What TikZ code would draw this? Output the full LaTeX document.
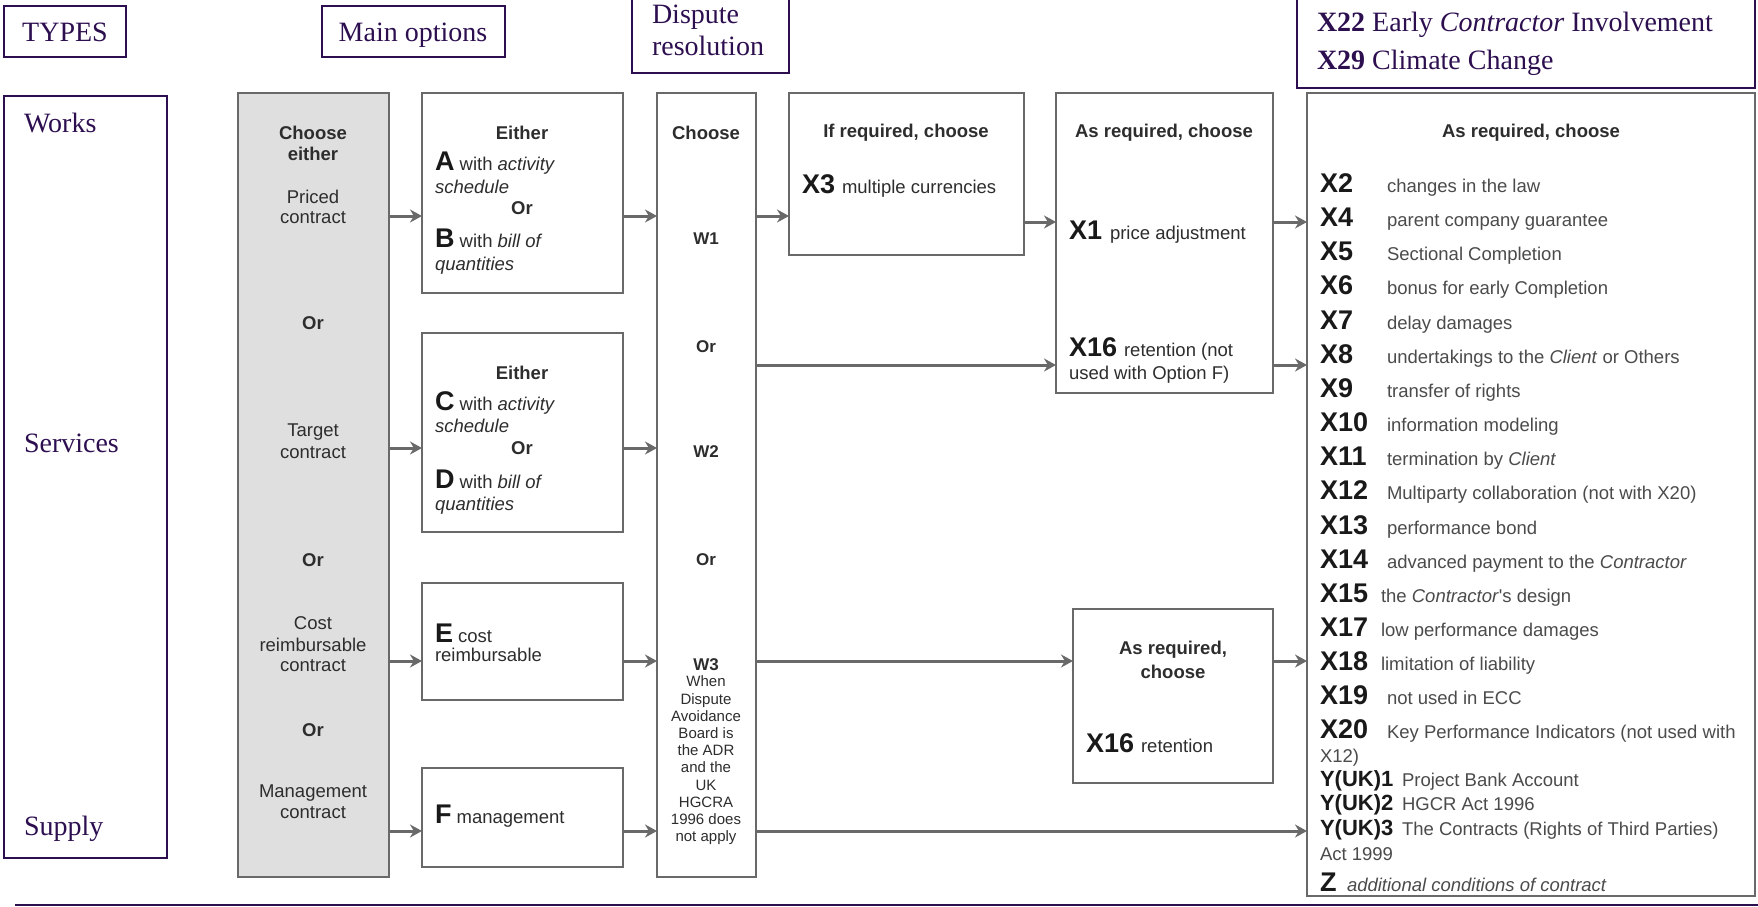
\documentclass[tikz,border=0pt]{standalone}
\usepackage{fontspec}
\setmainfont{Liberation Serif}
\newfontfamily\arialf{Liberation Sans}
\usetikzlibrary{arrows.meta}
\definecolor{pur}{RGB}{45,15,80}
\definecolor{gline}{RGB}{105,105,105}
\definecolor{gfill}{RGB}{223,223,223}
\definecolor{gtext}{RGB}{45,45,45}
\definecolor{dtext}{RGB}{75,75,75}
\newcommand\fsz[2]{\fontsize{#1}{#2}\selectfont}
\newcommand\BL[1]{{\fsz{27}{30}\bfseries\color{black!90}#1}}
\newcommand\xrow[5]{%
  \node[lbl,anchor=base west] (#1) at (1320,#2) {#3};
  \node[desc,anchor=base west] (#1d) at (#4,#2) {#5};}
\begin{document}
\begin{tikzpicture}[x=1pt,y=-1pt,
  every node/.style={inner sep=0pt,outer sep=0pt},
  pbox/.style={draw=pur,line width=1.8pt,anchor=north west},
  ptxt/.style={text=pur,font=\fsz{28}{32}},
  gbox/.style={draw=gline,line width=2.6pt,fill=white,anchor=north west},
  graybox/.style={gbox,fill=gfill},
  dt/.style={font=\arialf\fsz{18.5}{21},text=gtext},
  dtb/.style={font=\arialf\bfseries\fsz{18.5}{21},text=gtext},
  wt/.style={font=\arialf\bfseries\fsz{17}{20},text=gtext},
  desc/.style={font=\arialf\fsz{18.5}{21},text=dtext},
  lbl/.style={font=\arialf\bfseries\fsz{27}{30},text=black!90},
  ylbl/.style={font=\arialf\bfseries\fsz{22}{24},text=black!90},
  arr/.style={draw=gline,line width=3pt,-{Stealth[length=12pt,width=13pt]}},
]
\useasboundingbox (0,0) rectangle (1758,907);

% ---------- purple header boxes ----------
\node[pbox,minimum width=122pt,minimum height=51pt] (types) at (4,6) {};
\node[ptxt,anchor=base] (typest) at (65,42) {TYPES};
\node[pbox,minimum width=183pt,minimum height=51pt] (mainopt) at (322,6) {};
\node[ptxt,anchor=base] (mainoptt) at (413,42) {Main options};
\node[pbox,minimum width=157pt,minimum height=76pt] (disp) at (632,-3) {};
\node[ptxt,anchor=base west] (dispt1) at (652,24) {Dispute};
\node[ptxt,anchor=base west] (dispt2) at (652,56) {resolution};
\node[pbox,minimum width=458pt,minimum height=91pt] (xtop) at (1297,-3) {};
\node[ptxt,anchor=base west] (xtop1) at (1317,32) {\textbf{X22} Early \textit{Contractor} Involvement};
\node[ptxt,anchor=base west] (xtop2) at (1317,70) {\textbf{X29} Climate Change};

% ---------- types column ----------
\node[pbox,minimum width=163pt,minimum height=762pt] (typecol) at (4,96) {};
\node[ptxt,anchor=base west] (works) at (24,132) {Works};
\node[ptxt,anchor=base west] (services) at (24,452) {Services};
\node[ptxt,anchor=base west] (supply) at (24,835) {Supply};

% ---------- bottom rule ----------
\coordinate (bl) at (15,905);
\coordinate (br) at (1758,905);
\draw[pur,line width=2pt] (bl) -- (br);

% ---------- diagram boxes ----------
\node[graybox,minimum width=151pt,minimum height=784pt] (gray) at (238,93) {};
\node[gbox,minimum width=201pt,minimum height=200pt] (ab) at (422,93) {};
\node[gbox,minimum width=201pt,minimum height=199pt] (cd) at (422,333) {};
\node[gbox,minimum width=201pt,minimum height=117pt] (ebox) at (422,583) {};
\node[gbox,minimum width=201pt,minimum height=99pt] (fbox) at (422,768) {};
\node[gbox,minimum width=99pt,minimum height=784pt] (dcol) at (657,93) {};
\node[gbox,minimum width=235pt,minimum height=162pt] (x3box) at (789,93) {};
\node[gbox,minimum width=217pt,minimum height=300pt] (x1box) at (1056,93) {};
\node[gbox,minimum width=200pt,minimum height=174pt] (x16box) at (1073,609) {};
\node[gbox,minimum width=448pt,minimum height=803pt] (big) at (1307,93) {};

% ---------- gray column text ----------
\node[dtb] (g1) at (313,133) {Choose};
\node[dtb] (g2) at (313,154) {either};
\node[dt] (g3) at (313,197) {Priced};
\node[dt] (g4) at (313,218) {contract};
\node[dtb] (g5) at (313,323) {Or};
\node[dt] (g6) at (313,432) {Target};
\node[dt] (g7) at (313,453) {contract};
\node[dtb] (g8) at (313,560) {Or};
\node[dt] (g9) at (313,623) {Cost};
\node[dt] (g10) at (313,645) {reimbursable};
\node[dt] (g11) at (313,666) {contract};
\node[dtb] (g12) at (313,730) {Or};
\node[dt] (g13) at (313,793) {Management};
\node[dt] (g14) at (313,813) {contract};

% ---------- main option texts ----------
\node[dtb] (ab1) at (522,133) {Either};
\node[dt,anchor=base west] (ab2) at (435,170) {\BL{A} with \textit{activity}};
\node[dt,anchor=base west] (ab3) at (435,193) {\textit{schedule}};
\node[dtb] (ab4) at (522,208) {Or};
\node[dt,anchor=base west] (ab5) at (435,247) {\BL{B} with \textit{bill of}};
\node[dt,anchor=base west] (ab6) at (435,270) {\textit{quantities}};

\node[dtb] (cd1) at (522,373) {Either};
\node[dt,anchor=base west] (cd2) at (435,410) {\BL{C} with \textit{activity}};
\node[dt,anchor=base west] (cd3) at (435,432) {\textit{schedule}};
\node[dtb] (cd4) at (522,448) {Or};
\node[dt,anchor=base west] (cd5) at (435,488) {\BL{D} with \textit{bill of}};
\node[dt,anchor=base west] (cd6) at (435,510) {\textit{quantities}};

\node[dt,anchor=base west] (e1) at (435,642) {\BL{E} cost};
\node[dt,anchor=base west] (e2) at (435,661) {reimbursable};
\node[dt,anchor=base west] (f1) at (435,823) {\BL{F} management};

% ---------- dispute column texts ----------
\node[dtb] (d1) at (706,133) {Choose};
\node[wt] (d2) at (706,239) {W1};
\node[wt] (d3) at (706,347) {Or};
\node[wt] (d4) at (706,452) {W2};
\node[wt] (d5) at (706,560) {Or};
\node[wt] (d6) at (706,665) {W3};
\node[font=\arialf\fsz{15}{17.2},text=gtext,align=center,anchor=north] (d7) at (706,676)
  {When\\Dispute\\Avoidance\\Board is\\the ADR\\and the\\UK\\HGCRA\\1996 does\\not apply};

% ---------- X3, X1/X16, X16 boxes ----------
\node[dtb] (x3t) at (906,133) {If required, choose};
\node[dt,anchor=base west] (x3l) at (802,193) {\BL{X3}\hspace{7pt}multiple currencies};
\node[dtb] (x1t) at (1164,133) {As required, choose};
\node[dt,anchor=base west] (x1l) at (1069,239) {\BL{X1}\hspace{8pt}price adjustment};
\node[dt,anchor=base west] (x16l) at (1069,356) {\BL{X16}\hspace{7pt}retention (not};
\node[dt,anchor=base west] (x16l2) at (1069,379) {used with Option F)};
\node[dtb] (x16t1) at (1173,650) {As required,};
\node[dtb] (x16t2) at (1173,672) {choose};
\node[dt,anchor=base west] (x16r) at (1086,752) {\BL{X16}\hspace{7pt}retention};

% ---------- big list ----------
\node[dtb] (bigt) at (1531,133) {As required, choose};
\xrow{x2}{192}{X2}{1387}{changes in the law}
\xrow{x4}{226}{X4}{1387}{parent company guarantee}
\xrow{x5}{260}{X5}{1387}{Sectional Completion}
\xrow{x6}{294}{X6}{1387}{bonus for early Completion}
\xrow{x7}{329}{X7}{1387}{delay damages}
\xrow{x8}{363}{X8}{1387}{undertakings to the \textit{Client} or Others}
\xrow{x9}{397}{X9}{1387}{transfer of rights}
\xrow{x10}{431}{X10}{1387}{information modeling}
\xrow{x11}{465}{X11}{1387}{termination by \textit{Client}}
\xrow{x12}{499}{X12}{1387}{Multiparty collaboration (not with X20)}
\xrow{x13}{534}{X13}{1387}{performance bond}
\xrow{x14}{568}{X14}{1387}{advanced payment to the \textit{Contractor}}
\xrow{x15}{602}{X15}{1381}{the \textit{Contractor}'s design}
\xrow{x17}{636}{X17}{1381}{low performance damages}
\xrow{x18}{670}{X18}{1381}{limitation of liability}
\xrow{x19}{704}{X19}{1387}{not used in ECC}
\xrow{x20}{738}{X20}{1387}{Key Performance Indicators (not used with}
\node[desc,anchor=base west] (x20b) at (1320,762) {X12)};
\node[ylbl,anchor=base west] (y1) at (1320,786) {Y(UK)1};
\node[desc,anchor=base west] (y1d) at (1402,786) {Project Bank Account};
\node[ylbl,anchor=base west] (y2) at (1320,810) {Y(UK)2};
\node[desc,anchor=base west] (y2d) at (1402,810) {HGCR Act 1996};
\node[ylbl,anchor=base west] (y3) at (1320,835) {Y(UK)3};
\node[desc,anchor=base west] (y3d) at (1402,835) {The Contracts (Rights of Third Parties)};
\node[desc,anchor=base west] (y3b) at (1320,860) {Act 1999};
\node[lbl,anchor=base west] (zl) at (1320,891) {Z};
\node[desc,anchor=base west] (zd) at (1347,891) {\textit{additional conditions of contract}};

% ---------- arrow rows ----------
\coordinate (r1) at (0,216);
\coordinate (r2) at (0,222);
\coordinate (r3) at (0,365);
\coordinate (r4) at (0,448);
\coordinate (r5) at (0,661);
\coordinate (r6) at (0,831);

\draw[arr] (gray.east |- r1) -- (ab.west |- r1);
\draw[arr] (ab.east |- r1) -- (dcol.west |- r1);
\draw[arr] (dcol.east |- r1) -- (x3box.west |- r1);
\draw[arr] (x3box.east |- r2) -- (x1box.west |- r2);
\draw[arr] (x1box.east |- r2) -- (big.west |- r2);
\draw[arr] (dcol.east |- r3) -- (x1box.west |- r3);
\draw[arr] (x1box.east |- r3) -- (big.west |- r3);
\draw[arr] (gray.east |- r4) -- (cd.west |- r4);
\draw[arr] (cd.east |- r4) -- (dcol.west |- r4);
\draw[arr] (gray.east |- r5) -- (ebox.west |- r5);
\draw[arr] (ebox.east |- r5) -- (dcol.west |- r5);
\draw[arr] (dcol.east |- r5) -- (x16box.west |- r5);
\draw[arr] (x16box.east |- r5) -- (big.west |- r5);
\draw[arr] (gray.east |- r6) -- (fbox.west |- r6);
\draw[arr] (fbox.east |- r6) -- (dcol.west |- r6);
\draw[arr] (dcol.east |- r6) -- (big.west |- r6);
\end{tikzpicture}
\end{document}
